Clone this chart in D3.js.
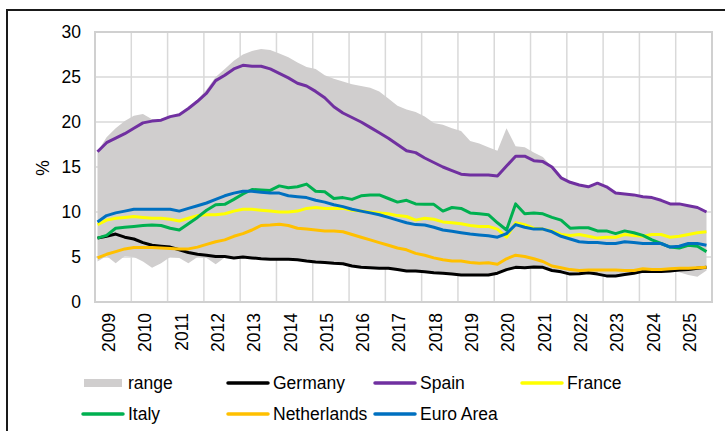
<!DOCTYPE html>
<html>
<head>
<meta charset="utf-8">
<title>unemployment</title>
<script src="https://cdn.jsdelivr.net/npm/d3@7"></script>
<style>
  body { margin: 0; background: #fff; }
  text { font-family: "Liberation Sans", Arial, sans-serif; fill: #000; }
</style>
</head>
<body>
<div id="chart"></div>
<script>
// quarterly, 2009Q1 .. 2025Q4
var years = ['2009','2010','2011','2012','2013','2014','2015','2016','2017','2018','2019','2020','2021','2022','2023','2024','2025'];
var yTicks = [0, 5, 10, 15, 20, 25, 30];

var rangeHigh = [16.7,18.3,19.3,20.1,20.7,20.9,20.3,20.2,20.6,20.8,21.5,22.5,23.6,25.0,25.9,26.8,27.5,27.9,28.1,28.0,
  27.6,27.2,26.6,26.1,25.9,25.2,24.8,24.5,24.2,24.0,23.8,23.4,22.6,21.8,21.4,21.1,20.6,19.9,19.7,19.3,
  19.0,17.9,17.6,17.2,16.8,19.3,17.3,17.2,16.6,16.1,15.0,13.8,13.3,13.0,12.8,13.2,12.8,12.1,12.0,11.9,
  11.7,11.6,11.3,10.9,10.9,10.7,10.5,10.0];
var rangeLow = [4.5,5.1,4.3,5.1,5.0,4.5,3.8,4.3,5.0,4.9,4.3,5.0,4.9,4.2,4.95,4.9,5.0,4.9,4.8,4.75,
  4.75,4.75,4.7,4.55,4.45,4.4,4.3,4.25,4.0,3.85,3.8,3.75,3.75,3.6,3.45,3.45,3.35,3.25,3.2,3.1,
  3.0,3.0,3.0,3.0,3.2,3.6,3.85,3.8,3.9,3.85,3.5,3.35,3.1,3.15,3.25,3.1,2.9,2.9,3.05,3.2,
  3.4,3.4,3.4,3.45,3.3,3.0,2.8,3.5];

var germany = [7.1,7.3,7.55,7.2,7.0,6.6,6.3,6.2,6.1,5.8,5.5,5.3,5.2,5.05,5.05,4.9,5.0,4.9,4.8,4.75,
  4.75,4.75,4.7,4.55,4.45,4.4,4.3,4.25,4.0,3.85,3.8,3.75,3.75,3.6,3.45,3.45,3.35,3.25,3.2,3.1,
  3.0,3.0,3.0,3.0,3.2,3.6,3.85,3.8,3.9,3.85,3.5,3.35,3.1,3.15,3.25,3.1,2.9,2.9,3.05,3.2,
  3.4,3.4,3.4,3.45,3.55,3.6,3.75,3.85];
var spain = [16.7,17.7,18.2,18.7,19.3,19.9,20.1,20.2,20.6,20.8,21.5,22.3,23.2,24.6,25.2,25.9,26.3,26.2,26.2,25.9,
  25.4,24.9,24.3,24.0,23.4,22.7,21.7,21.0,20.5,20.0,19.4,18.8,18.2,17.5,16.8,16.6,16.0,15.5,15.0,14.6,
  14.2,14.1,14.1,14.1,14.0,15.1,16.2,16.2,15.7,15.6,15.0,13.8,13.3,13.0,12.8,13.2,12.8,12.1,12.0,11.9,
  11.7,11.6,11.3,10.9,10.9,10.7,10.5,10.0];
var france = [8.6,9.1,9.3,9.4,9.5,9.4,9.3,9.3,9.2,9.0,9.3,9.6,9.7,9.7,9.8,10.1,10.3,10.3,10.2,10.1,
  10.0,10.0,10.1,10.4,10.5,10.4,10.4,10.4,10.2,10.1,10.0,9.9,9.8,9.6,9.5,9.1,9.3,9.2,8.9,8.8,
  8.7,8.5,8.4,8.4,8.1,7.2,8.8,8.6,8.2,8.1,7.9,7.5,7.4,7.5,7.3,7.1,7.2,7.2,7.5,7.4,
  7.3,7.5,7.5,7.2,7.3,7.5,7.7,7.8];
var italy = [7.1,7.4,8.2,8.3,8.4,8.5,8.55,8.5,8.2,8.0,8.7,9.4,10.2,10.8,10.85,11.4,12.0,12.5,12.45,12.4,
  12.9,12.7,12.8,13.1,12.3,12.25,11.5,11.6,11.4,11.8,11.9,11.9,11.5,11.1,11.3,10.9,10.85,10.85,10.1,10.5,
  10.4,9.9,9.8,9.7,8.8,8.0,10.9,9.8,9.9,9.8,9.4,9.1,8.2,8.25,8.25,7.9,7.9,7.6,7.9,7.7,
  7.4,6.9,6.5,6.1,6.0,6.3,6.2,5.6];
var netherlands = [4.9,5.3,5.6,5.9,6.05,6.05,6.05,6.0,5.95,5.9,5.9,6.1,6.4,6.7,6.9,7.3,7.6,8.0,8.5,8.55,
  8.65,8.5,8.2,8.1,8.0,7.9,7.9,7.8,7.5,7.2,6.9,6.6,6.3,6.0,5.8,5.4,5.2,4.9,4.7,4.55,
  4.55,4.4,4.3,4.35,4.2,4.8,5.2,5.05,4.8,4.5,4.0,3.8,3.6,3.5,3.55,3.55,3.55,3.55,3.5,3.5,
  3.7,3.6,3.6,3.7,3.75,3.75,3.8,3.85];
var euroArea = [8.9,9.6,9.9,10.1,10.3,10.3,10.3,10.3,10.3,10.1,10.4,10.7,11.0,11.4,11.8,12.1,12.3,12.3,12.2,12.1,
  12.1,11.8,11.7,11.6,11.3,11.1,10.8,10.6,10.3,10.1,9.9,9.7,9.4,9.1,8.8,8.6,8.55,8.3,8.0,7.85,
  7.7,7.55,7.45,7.35,7.2,7.6,8.6,8.3,8.1,8.1,7.8,7.3,7.0,6.7,6.6,6.6,6.5,6.5,6.7,6.6,
  6.5,6.5,6.5,6.1,6.2,6.5,6.5,6.3];

var series = [
  {name: 'Germany', values: germany, color: '#000000'},
  {name: 'Spain', values: spain, color: '#7030a0'},
  {name: 'France', values: france, color: '#ffff00'},
  {name: 'Italy', values: italy, color: '#00b050'},
  {name: 'Netherlands', values: netherlands, color: '#ffc000'},
  {name: 'Euro Area', values: euroArea, color: '#0070c0'}
];
var rangeColor = '#d0cece';

var width = 725, height = 431;
var plotL = 95, plotR = 712, plotT = 32, plotB = 302;

var svg = d3.select('#chart').append('svg')
    .attr('width', width)
    .attr('height', height);

// outer frame
svg.append('rect')
    .attr('x', 7).attr('y', 10)
    .attr('width', 740).attr('height', 450)
    .attr('fill', 'none')
    .attr('stroke', '#1a1a1a')
    .attr('stroke-width', 2);

var yearScale = d3.scaleBand().domain(years).range([plotL, plotR]);
var x = d3.scaleLinear().domain([0, rangeHigh.length - 1]).range([97.5, 706.5]);
var y = d3.scaleLinear().domain([0, 30]).range([plotB, plotT]);

// grid
svg.append('g').selectAll('line')
    .data(yTicks)
    .enter().append('line')
    .attr('x1', plotL).attr('x2', plotR)
    .attr('y1', d => y(d)).attr('y2', d => y(d))
    .attr('stroke', '#d9d9d9').attr('stroke-width', 1.5);

svg.append('g').selectAll('line')
    .data(years.slice(1))
    .enter().append('line')
    .attr('x1', d => yearScale(d)).attr('x2', d => yearScale(d))
    .attr('y1', plotT).attr('y2', plotB)
    .attr('stroke', '#d9d9d9').attr('stroke-width', 1.5);

// range band
var area = d3.area()
    .x((d, i) => x(i))
    .y0((d, i) => y(rangeLow[i]))
    .y1(d => y(d));

svg.append('path')
    .datum(rangeHigh)
    .attr('d', area)
    .attr('fill', rangeColor);

// plot border
svg.append('rect')
    .attr('x', plotL).attr('y', plotT)
    .attr('width', plotR - plotL).attr('height', plotB - plotT)
    .attr('fill', 'none')
    .attr('stroke', '#d0d0d0')
    .attr('stroke-width', 2);

var line = d3.line()
    .x((d, i) => x(i))
    .y(d => y(d));

svg.append('g').selectAll('path')
    .data(series)
    .enter().append('path')
    .attr('d', d => line(d.values))
    .attr('fill', 'none')
    .attr('stroke', d => d.color)
    .attr('stroke-width', 3)
    .attr('stroke-linejoin', 'round');

// y axis labels
svg.append('g').selectAll('text')
    .data(yTicks)
    .enter().append('text')
    .attr('x', 81)
    .attr('y', d => y(d))
    .attr('dy', '0.35em')
    .attr('text-anchor', 'end')
    .attr('font-size', '17.5px')
    .text(d => d);

svg.append('text')
    .attr('transform', 'translate(43,168) rotate(-90)')
    .attr('dy', '0.35em')
    .attr('text-anchor', 'middle')
    .attr('font-size', '17.5px')
    .text('%');

// x axis labels
svg.append('g').selectAll('text')
    .data(years)
    .enter().append('text')
    .attr('transform', d => 'translate(' + (yearScale(d) + 14) + ',313) rotate(-90)')
    .attr('dy', '0.35em')
    .attr('text-anchor', 'end')
    .attr('font-size', '17.5px')
    .text(d => d);

// legend
var legendItems = [{name: 'range', color: rangeColor, box: true}].concat(series);
var colX = [83, 228, 375, 522];
var rowY = [383, 414];

var leg = svg.append('g').selectAll('g')
    .data(legendItems)
    .enter().append('g')
    .attr('transform', (d, i) => 'translate(' + colX[i % 4] + ',' + rowY[Math.floor(i / 4)] + ')');

leg.filter(d => d.box).append('rect')
    .attr('x', 1).attr('y', -4)
    .attr('width', 38).attr('height', 8)
    .attr('fill', d => d.color);

leg.filter(d => !d.box).append('line')
    .attr('x1', 0).attr('x2', 40)
    .attr('y1', 0).attr('y2', 0)
    .attr('stroke', d => d.color)
    .attr('stroke-width', 3.5)
    .attr('stroke-linecap', 'round');

leg.append('text')
    .attr('x', 45)
    .attr('dy', '0.35em')
    .attr('font-size', '17.5px')
    .text(d => d.name);
</script>
</body>
</html>
